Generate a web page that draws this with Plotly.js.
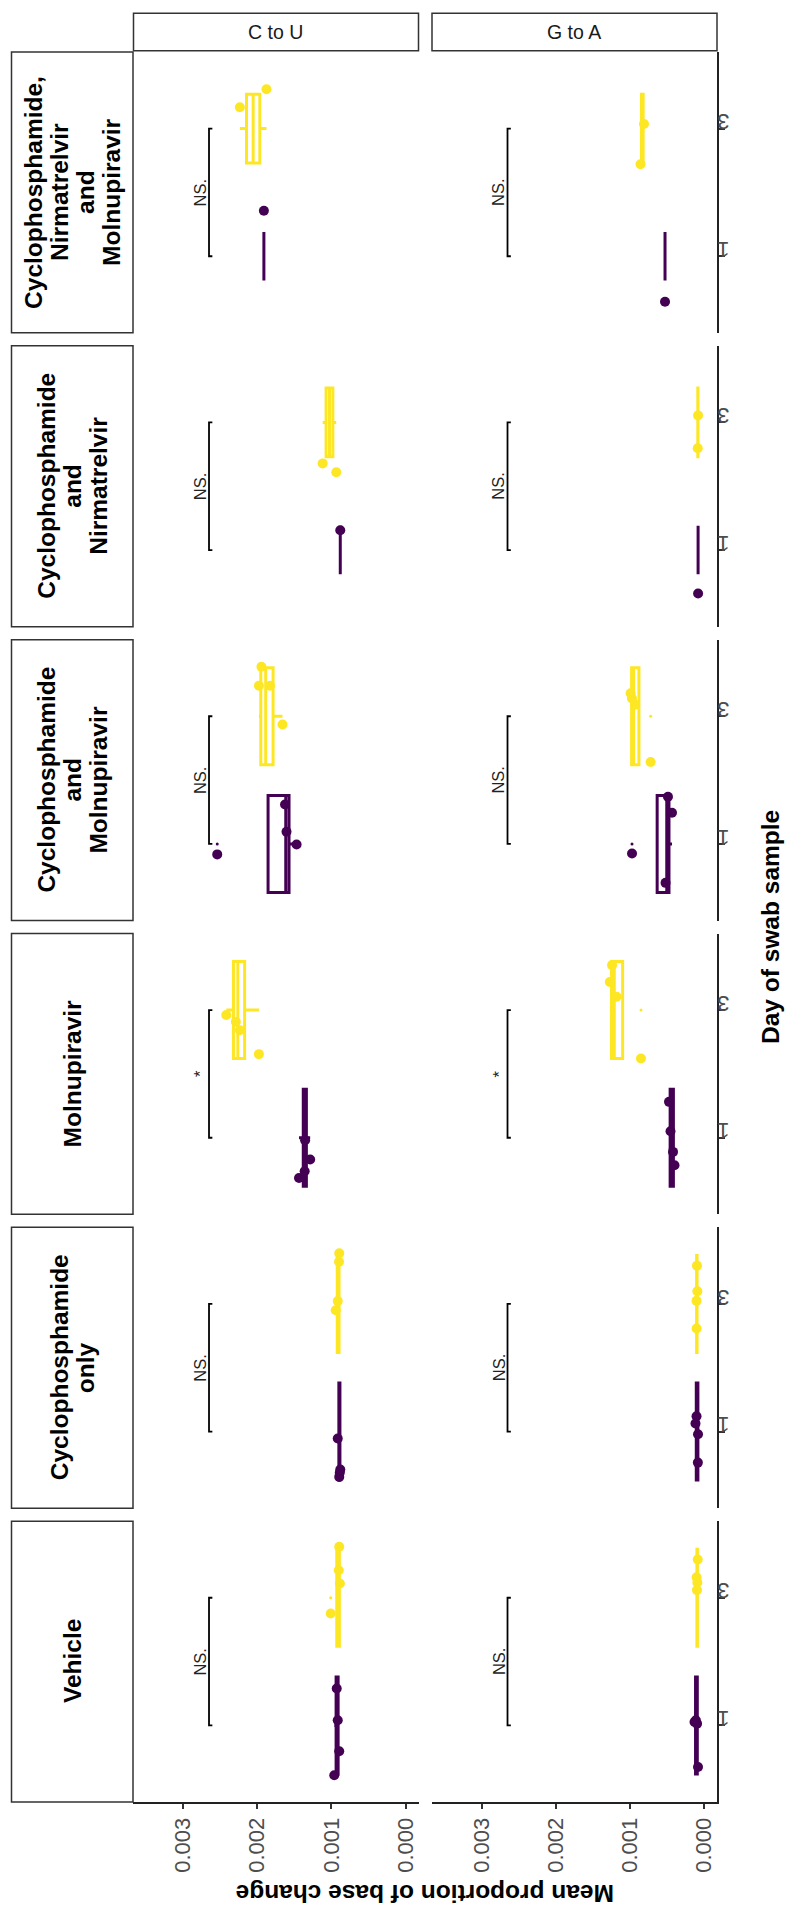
<!DOCTYPE html>
<html>
<head>
<meta charset="utf-8">
<script src="https://cdn.plot.ly/plotly-3.0.1.min.js"></script>
<style>html,body{margin:0;padding:0;background:#fff;}#chart{width:788px;height:1909px;}</style>
</head>
<body>
<div id="chart"></div>
<script>
// ---------------- DATA (top-to-bottom treatment order) ----------------
const treatmentLines = [
  ["Cyclophosphamide,", "Nirmatrelvir", "and", "Molnupiravir"],
  ["Cyclophosphamide", "and", "Nirmatrelvir"],
  ["Cyclophosphamide", "and", "Molnupiravir"],
  ["Molnupiravir"],
  ["Cyclophosphamide", "only"],
  ["Vehicle"]
];
const mutations = ["C to U", "G to A"];
const dayLabels = ["1", "3"];
const valueTicks = [0, 0.001, 0.002, 0.003];
const valueTickText = ["0.000", "0.001", "0.002", "0.003"];
const sigLabels = ["NS.", "NS.", "NS.", "*", "NS.", "NS."];
const bracketValue = 0.00265;

// C to U, day 1
const cuDay1 = [
  [0.00191],
  [0.00088],
  [0.001625, 0.001605, 0.001469, 0.002539],
  [0.001354, 0.001286, 0.00136, 0.001436],
  [0.000914, 0.00088, 0.000894, 0.000886],
  [0.000928, 0.000914, 0.000894, 0.000961]
];
const cuDay1Jitter = [
  [0.356],
  [0.156],
  [0.309, 0.095, -0.004, -0.082],
  [-0.019, -0.17, -0.262, -0.315],
  [-0.054, -0.297, -0.355, -0.32],
  [0.289, 0.04, -0.203, -0.391]
];
// C to U, day 3
const cuDay3 = [
  [0.002234, 0.001875],
  [0.001117, 0.000934],
  [0.001943, 0.001977, 0.001828, 0.001659],
  [0.002417, 0.002288, 0.002234, 0.001977],
  [0.000894, 0.000897, 0.000914, 0.000941],
  [0.000894, 0.0009, 0.000885, 0.001009]
];
const cuDay3Jitter = [
  [0.167, 0.308],
  [-0.321, -0.391],
  [0.388, 0.239, 0.239, -0.064],
  [-0.039, -0.092, -0.157, -0.345],
  [0.396, 0.33, 0.022, -0.049],
  [0.399, 0.216, 0.112, -0.123]
];
// G to A, day 1
const gaDay1 = [
  [0.000526],
  [0.00008],
  [0.000486, 0.000432, 0.000519, 0.000971],
  [0.000472, 0.000452, 0.000418, 0.000398],
  [0.000101, 0.000115, 0.000081, 0.000083],
  [0.000128, 0.000094, 0.000081, 0.00011]
];
const gaDay1Jitter = [
  [-0.357],
  [-0.34],
  [0.369, 0.244, -0.305, -0.075],
  [0.281, 0.051, -0.111, -0.215],
  [0.12, 0.063, -0.021, -0.243],
  [0.027, 0.014, -0.326, 0.04]
];
// G to A, day 3
const gaDay3 = [
  [0.000809, 0.000856],
  [0.00008, 0.000085],
  [0.00099, 0.000972, 0.00093, 0.00072],
  [0.00124, 0.00118, 0.00127, 0.00085],
  [0.000101, 0.0001, 0.000095, 0.00009],
  [0.0001, 0.00009, 0.000095, 0.000085]
];
const gaDay3Jitter = [
  [0.036, -0.28],
  [0.055, -0.203],
  [0.18, 0.14, 0.09, -0.359],
  [0.352, 0.104, 0.22, -0.379],
  [0.024, -0.192, 0.3, 0.1],
  [0.16, 0.12, 0.06, 0.3]
];

// ---------------- STYLE / LAYOUT ----------------
const W = 788, H = 1909;
const dayColors = ["#440154", "#FDE725"];
const FONT = "Liberation Sans, Arial, Helvetica, sans-serif";
const plotTop = 52, plotBottom = 1802, panelGap = 13;
const panelH = (plotBottom - plotTop - 5 * panelGap) / 6;
const colX = [[133, 418.5], [431.5, 717]];
const stripX = [11.5, 133];
const topStripY = [13.3, 50.7];

function quant(s, p) {
  const h = (s.length - 1) * p, lo = Math.floor(h), hi = Math.ceil(h);
  return s[lo] + (h - lo) * (s[hi] - s[lo]);
}
function stats(vals) {
  const s = vals.slice().sort((a, b) => a - b);
  const q1 = quant(s, 0.25), med = quant(s, 0.5), q3 = quant(s, 0.75);
  const iqr = q3 - q1, lo = q1 - 1.5 * iqr, hi = q3 + 1.5 * iqr;
  const inside = s.filter(v => v >= lo - 1e-12 && v <= hi + 1e-12);
  return { q1, med, q3, lf: Math.min(...inside), uf: Math.max(...inside),
           out: s.filter(v => v < lo - 1e-12 || v > hi + 1e-12) };
}

const series = [
  [[cuDay1, cuDay1Jitter], [cuDay3, cuDay3Jitter]],
  [[gaDay1, gaDay1Jitter], [gaDay3, gaDay3Jitter]]
];

const traces = [];
const layout = {
  width: W, height: H, margin: { l: 0, r: 0, t: 0, b: 0 },
  paper_bgcolor: "#fff", plot_bgcolor: "rgba(0,0,0,0)",
  showlegend: false, font: { family: FONT, color: "#1a1a1a" },
  annotations: [], shapes: []
};

const px2py = y => 1 - y / H;
const px2px = x => x / W;

for (let p = 0; p < 6; p++) {
  const top = plotTop + p * (panelH + panelGap), bot = top + panelH;
  for (let c = 0; c < 2; c++) {
    const k = p * 2 + c + 1;
    const xa = k === 1 ? "x" : "x" + k, ya = k === 1 ? "y" : "y" + k;
    const xName = k === 1 ? "xaxis" : "xaxis" + k, yName = k === 1 ? "yaxis" : "yaxis" + k;
    layout[xName] = {
      domain: [px2px(colX[c][0]), px2px(colX[c][1])], anchor: ya,
      range: [0.003675, -0.000175], showgrid: false, zeroline: false,
      showline: p === 5, linecolor: "#222", linewidth: 2,
      ticks: p === 5 ? "outside" : "", ticklen: 5, tickwidth: 2, tickcolor: "#333",
      tickvals: valueTicks, ticktext: valueTickText, showticklabels: p === 5,
      tickangle: -90, tickfont: { size: 22, color: "#4d4d4d", family: FONT }
    };
    layout[yName] = {
      domain: [px2py(bot), px2py(top)], anchor: xa, side: "right",
      range: [0.4, 2.6], showgrid: false, zeroline: false,
      showline: c === 1, linecolor: "#222", linewidth: 2,
      ticks: c === 1 ? "outside" : "", ticklen: 6, tickwidth: 2, tickcolor: "#333",
      tickvals: [1, 2], ticktext: dayLabels, showticklabels: c === 1,
      tickangle: 180, tickfont: { size: 22, color: "#4d4d4d", family: FONT }
    };

    for (let d = 0; d < 2; d++) {
      const vals = series[c][d][0][p], jit = series[c][d][1][p];
      const st = stats(vals);
      traces.push({
        type: "box", orientation: "h", xaxis: xa, yaxis: ya,
        y: [d + 1], q1: [st.q1], median: [st.med], q3: [st.q3],
        lowerfence: [st.lf], upperfence: [st.uf],
        width: 0.38 * Math.sqrt(vals.length), whiskerwidth: 0,
        boxpoints: false, line: { color: dayColors[d], width: 3 },
        fillcolor: "rgba(255,255,255,0)", hoverinfo: "skip"
      });
      if (st.out.length) {
        traces.push({
          type: "scatter", mode: "markers", xaxis: xa, yaxis: ya,
          x: st.out, y: st.out.map(() => d + 1),
          marker: { size: 3, color: dayColors[d] }, hoverinfo: "skip"
        });
      }
      traces.push({
        type: "scatter", mode: "markers", xaxis: xa, yaxis: ya,
        x: vals, y: vals.map((v, i) => d + 1 + jit[i]),
        marker: { size: 10, color: dayColors[d] }, hoverinfo: "skip"
      });
    }
    // significance bracket
    const stub = 0.000045;
    traces.push({
      type: "scatter", mode: "lines", xaxis: xa, yaxis: ya,
      x: [bracketValue - stub, bracketValue, bracketValue, bracketValue - stub],
      y: [1, 1, 2, 2], line: { color: "#000", width: 1.8 }, hoverinfo: "skip"
    });
    layout.annotations.push({
      xref: xa, yref: ya, x: bracketValue, y: 1.5, xshift: -9,
      text: sigLabels[p], showarrow: false, textangle: -90,
      xanchor: "center", yanchor: "middle",
      font: { size: 16.5, color: "#222", family: FONT }
    });
  }
  // treatment strip
  layout.shapes.push({
    type: "rect", xref: "paper", yref: "paper",
    x0: px2px(stripX[0]), x1: px2px(stripX[1]), y0: px2py(bot), y1: px2py(top),
    line: { color: "#333", width: 1.5 }, fillcolor: "#fff", layer: "below"
  });
  const lines = treatmentLines[p], n = lines.length, spacing = 26;
  lines.forEach((ln, i) => {
    const cx = 72.5 + (i - (n - 1) / 2) * spacing;
    layout.annotations.push({
      xref: "paper", yref: "paper", x: px2px(cx), y: px2py((top + bot) / 2),
      text: "<b>" + ln + "</b>", showarrow: false, textangle: -90,
      xanchor: "center", yanchor: "middle",
      font: { size: 24.5, color: "#000", family: FONT }
    });
  });
}

// mutation strips
for (let c = 0; c < 2; c++) {
  layout.shapes.push({
    type: "rect", xref: "paper", yref: "paper",
    x0: px2px(colX[c][0] + 0.5), x1: px2px(colX[c][1]), y0: px2py(topStripY[1]), y1: px2py(topStripY[0]),
    line: { color: "#333", width: 1.5 }, fillcolor: "#fff", layer: "below"
  });
  layout.annotations.push({
    xref: "paper", yref: "paper", x: px2px((colX[c][0] + colX[c][1]) / 2),
    y: px2py((topStripY[0] + topStripY[1]) / 2),
    text: mutations[c], showarrow: false, xanchor: "center", yanchor: "middle",
    font: { size: 19.5, color: "#1a1a1a", family: FONT }
  });
}

// axis titles
layout.annotations.push({
  xref: "paper", yref: "paper", x: px2px(425), y: px2py(1894),
  text: "<b>Mean proportion of base change</b>", showarrow: false, textangle: 180,
  xanchor: "center", yanchor: "middle", font: { size: 24.5, color: "#000", family: FONT }
});
layout.annotations.push({
  xref: "paper", yref: "paper", x: px2px(770), y: px2py(927),
  text: "<b>Day of swab sample</b>", showarrow: false, textangle: -90,
  xanchor: "center", yanchor: "middle", font: { size: 24.5, color: "#000", family: FONT }
});

Plotly.newPlot("chart", traces, layout, { staticPlot: true, displayModeBar: false });
</script>
</body>
</html>
